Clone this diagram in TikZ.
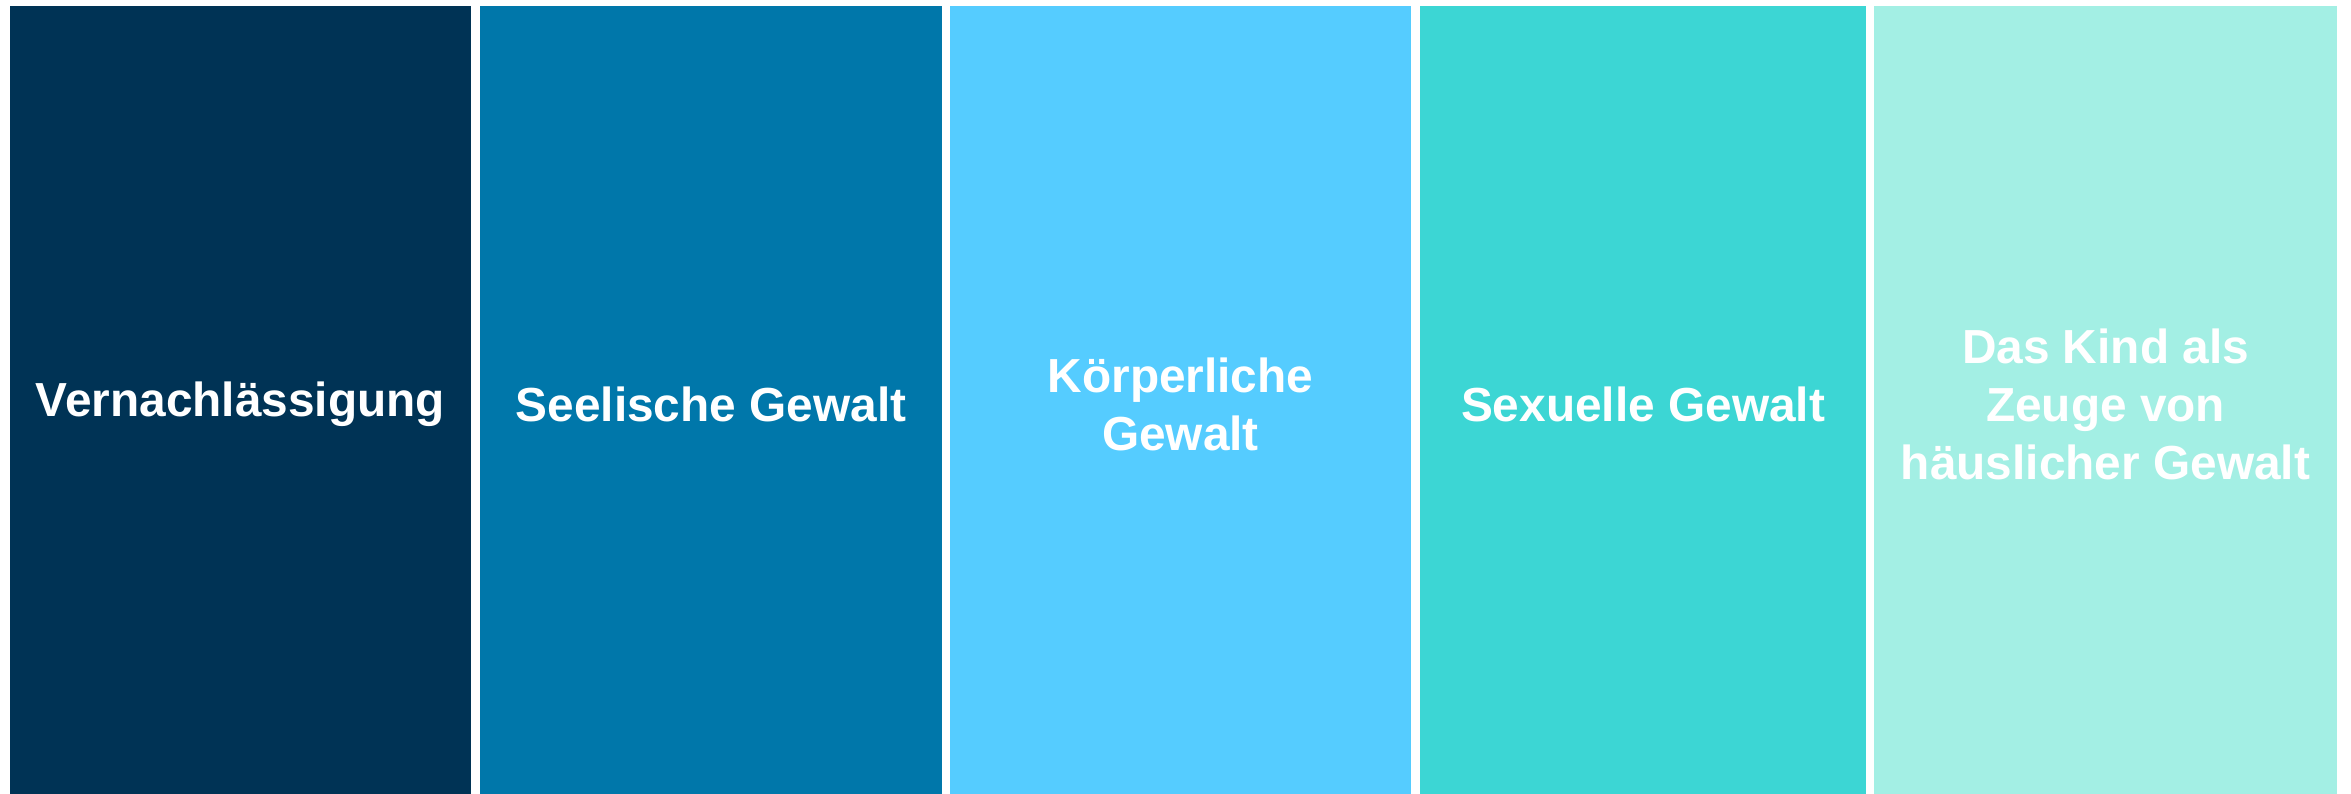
\documentclass[tikz,border=0pt]{standalone}
\usepackage{fontspec}
\setmainfont{Liberation Sans}
\usepackage{tikz}
\definecolor{navy}{RGB}{0,51,85}
\definecolor{ocean}{RGB}{0,119,170}
\definecolor{sky}{RGB}{85,204,255}
\definecolor{teal}{RGB}{60,214,212}
\definecolor{mint}{RGB}{163,239,228}
\tikzset{
	column/.style={rectangle, minimum height=7.97cm, inner sep=0pt, text=white, align=center,
		font=\fontsize{13.6}{16.5}\selectfont\bfseries}
}

\begin{document}
\begin{tikzpicture}
			\useasboundingbox (0, 0) rectangle (23.51, 7.93);
			\node[column, fill=navy, minimum width=4.61cm] (neglect) at (2.405, 3.885) {Vernachlässigung};
			\node[column, fill=ocean, minimum width=4.62cm] (mental) at (7.11, 3.885) {Seelische Gewalt};
			\node[column, fill=sky, minimum width=4.61cm] (physical) at (11.805, 3.885) {Körperliche\\Gewalt};
			\node[column, fill=teal, minimum width=4.46cm] (sexual) at (16.43, 3.885) {Sexuelle Gewalt};
			\node[column, fill=mint, minimum width=4.63cm] (witness) at (21.055, 3.885) {Das Kind als\\Zeuge von\\häuslicher Gewalt};
		\end{tikzpicture}
\end{document}
